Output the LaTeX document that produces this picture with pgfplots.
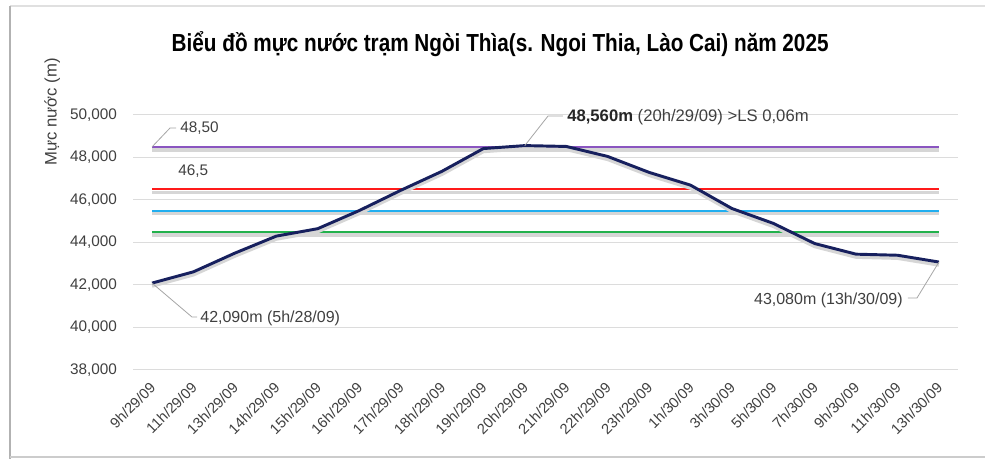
\documentclass[border=0pt]{standalone}
\usepackage{fontspec}
\setmainfont{Liberation Sans}
\newfontfamily\titlefont[FakeStretch=0.84]{Liberation Sans}
\usepackage{pgfplots}
\pgfplotsset{compat=1.18}
\definecolor{lvl}{HTML}{17205E}
\definecolor{purp}{HTML}{8A55C0}
\definecolor{redl}{HTML}{FF1A1A}
\definecolor{cyanl}{HTML}{21AEEF}
\definecolor{greenl}{HTML}{22B14C}
\definecolor{gridc}{HTML}{DCDCDC}
\definecolor{txt}{HTML}{404040}
\definecolor{leader}{HTML}{A6A6A6}
\tikzset{shadowed/.style={preaction={draw=black!16, line width=2.6pt, transform canvas={yshift=-2.2pt}}}}

\begin{document}
\begin{tikzpicture}
\useasboundingbox (0,0) rectangle (738.75pt,344.25pt);
\fill[white] (0,0) rectangle (738.75pt,344.25pt);
% frame of the chart area
\draw[draw=black!12, line width=1.5pt] (7.5pt,339.75pt) -- (738.75pt,339.75pt);
\draw[draw=black!30, line width=1.5pt] (7.5pt,0pt) -- (7.5pt,339.75pt);
\draw[draw=black!20, line width=1pt] (7.5pt,1.5pt) -- (738.75pt,1.5pt);

\begin{axis}[
  scale only axis,
  width=618.75pt, height=191.25pt,
  at={(99.75pt,66.75pt)}, anchor=south west,
  xmin=-0.46, xmax=19.46,
  ymin=38, ymax=50,
  ytick={38,40,42,44,46,48,50},
  xtick={0,...,19},
  xticklabels={9h/29/09, 11h/29/09, 13h/29/09, 14h/29/09, 15h/29/09, 16h/29/09,
    17h/29/09, 18h/29/09, 19h/29/09, 20h/29/09, 21h/29/09, 22h/29/09, 23h/29/09,
    1h/30/09, 3h/30/09, 5h/30/09, 7h/30/09, 9h/30/09, 11h/30/09, 13h/30/09},
  axis line style={draw=none},
  tick style={draw=none},
  ymajorgrids,
  grid style={gridc, line width=0.75pt},
  clip=false,
  /pgf/number format/assume math mode=true,
  yticklabel style={/pgf/number format/fixed, /pgf/number format/fixed zerofill,
    /pgf/number format/precision=3, /pgf/number format/use comma,
    /pgf/number format/1000 sep={}, anchor=east, xshift=-8.5pt,
    font=\fontsize{11.5}{13}\selectfont},
  ticklabel style={text=txt},
  xticklabel style={xshift=3pt, yshift=-9pt, rotate=45, anchor=east,
    font=\fontsize{11}{13}\selectfont},
  title={\titlefont\bfseries Biểu đồ mực nước trạm Ngòi Thìa(s. Ngoi Thia, Lào Cai) năm 2025},
  title style={font=\fontsize{18.5}{20}\selectfont, text=black, at={(rel axis cs:0.445,1.2157)}, anchor=base},
  ylabel={Mực nước (m)},
  every axis y label/.style={at={(rel axis cs:-0.098,1.012)}, rotate=90, anchor=center, font=\fontsize{12.5}{14}\selectfont, text=txt},
]
% reference levels
\addplot[purp, line width=1.5pt, shadowed] coordinates {(0,48.5) (19,48.5)};
\addplot[redl, line width=1.5pt, shadowed] coordinates {(0,46.5) (19,46.5)};
\addplot[cyanl, line width=1.5pt, shadowed] coordinates {(0,45.5) (19,45.5)};
\addplot[greenl, line width=1.5pt, shadowed] coordinates {(0,44.5) (19,44.5)};
% water level
\addplot[lvl, line width=2.2pt, line join=round, shadowed] coordinates {
  (0,42.09) (1,42.62) (2,43.50) (3,44.30) (4,44.65) (5,45.50) (6,46.45)
  (7,47.35) (8,48.42) (9,48.56) (10,48.52) (11,48.05) (12,47.30) (13,46.70)
  (14,45.60) (15,44.90) (16,43.95) (17,43.45) (18,43.40) (19,43.08)
};
% annotations
\draw[leader, line width=0.6pt] (axis cs:0,48.5) -- (axis cs:0.435,49.39) -- (axis cs:0.58,49.39);
\node[anchor=west, inner sep=0pt, text=txt, font=\fontsize{11.5}{13}\selectfont] at (axis cs:0.676,49.39) {48,50};
\node[anchor=west, inner sep=0pt, text=txt, font=\fontsize{11.5}{13}\selectfont] at (axis cs:0.628,47.36) {46,5};
\draw[leader, line width=0.6pt] (axis cs:9,48.56) -- (axis cs:9.56,49.95) -- (axis cs:9.92,49.95);
\node[anchor=west, inner sep=0pt, text=txt, font=\fontsize{12.5}{14}\selectfont] at (axis cs:10.02,49.9) {\textbf{\color{black!85}48,560m} (20h/29/09) >LS 0,06m};
\draw[leader, line width=0.6pt] (axis cs:0,42.09) -- (axis cs:0.966,40.49) -- (axis cs:1.086,40.49);
\node[anchor=west, inner sep=0pt, text=txt, font=\fontsize{12}{14}\selectfont] at (axis cs:1.16,40.45) {42,090m (5h/28/09)};
\draw[leader, line width=0.6pt] (axis cs:19,43.08) -- (axis cs:18.47,41.39) -- (axis cs:18.25,41.39);
\node[anchor=east, inner sep=0pt, text=txt, font=\fontsize{12}{14}\selectfont] at (axis cs:18.13,41.29) {43,080m (13h/30/09)};
\end{axis}
\end{tikzpicture}
\end{document}
